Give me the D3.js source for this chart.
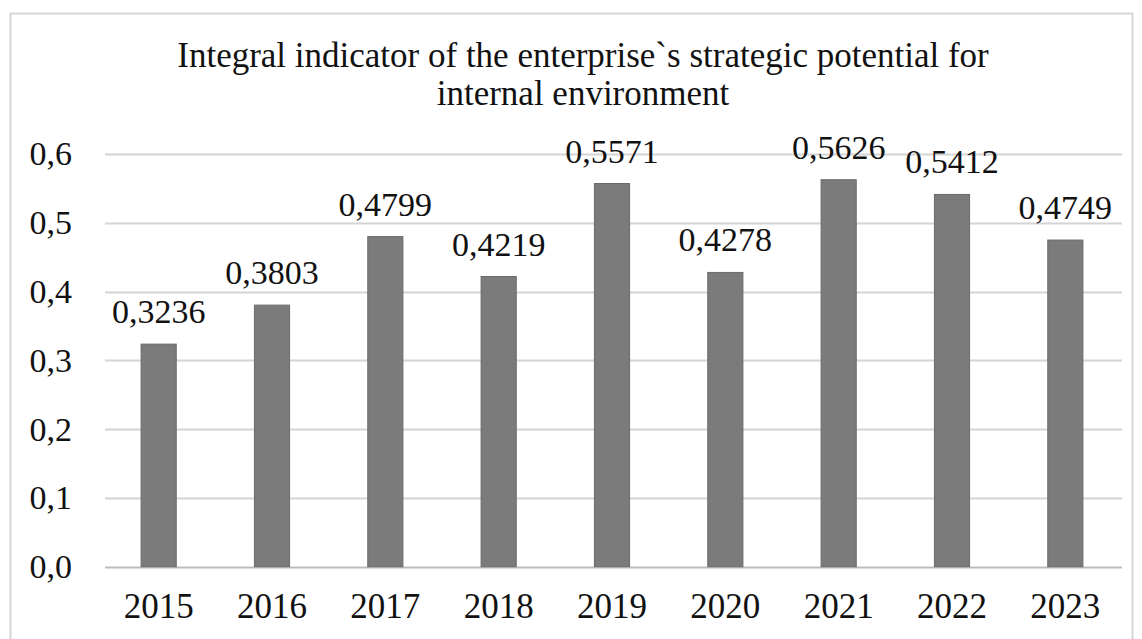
<!DOCTYPE html>
<html>
<head>
<meta charset="utf-8">
<script src="https://cdn.jsdelivr.net/npm/d3@7"></script>
</head>
<body style="margin:0;background:#fff">
<svg id="s" width="1142" height="639" style="display:block"></svg>
<script>
// Integral indicator values by year
const years = ["2015", "2016", "2017", "2018", "2019", "2020", "2021", "2022", "2023"];
const values = [0.3236, 0.3803, 0.4799, 0.4219, 0.5571, 0.4278, 0.5626, 0.5412, 0.4749];
const yTicks = [0, 0.1, 0.2, 0.3, 0.4, 0.5, 0.6];
const titleLines = [
  "Integral indicator of the enterprise`s strategic potential for",
  "internal environment"
];

const INK = "#111";
const serifText = (sel, size) => sel
  .attr("style", `font-family: 'Liberation Serif' !important; font-size: ${size}px; fill: ${INK}`);

const svg = d3.select("#s");

// Chart area frame
svg.append("rect")
  .attr("x", 10.5).attr("y", 13.5)
  .attr("width", 1122).attr("height", 640)
  .attr("fill", "none").attr("stroke", "#d6d6d6").attr("stroke-width", 2);

const plot = { left: 102, right: 1122, top: 154, bottom: 566.7 };

const x = d3.scaleBand()
  .domain(years)
  .range([plot.left, plot.right])
  .paddingInner(0.69)
  .paddingOuter(0.345);

const y = d3.scaleLinear()
  .domain([0, 0.6])
  .range([plot.bottom, plot.top]);

const comma = v => v.toFixed(1).replace(".", ",");
const comma4 = v => v.toFixed(4).replace(".", ",");

// Horizontal gridlines
svg.append("g")
  .selectAll("line")
  .data(yTicks)
  .join("line")
  .attr("x1", plot.left + 3).attr("x2", plot.right)
  .attr("y1", d => Math.round(y(d)) + 0.5).attr("y2", d => Math.round(y(d)) + 0.5)
  .attr("stroke", d => d === 0 ? "#bdbdbd" : "#d4d4d4")
  .attr("stroke-width", 2);

// Y axis labels
const gy = svg.append("g")
  .attr("transform", "translate(72,0)")
  .call(d3.axisLeft(y).tickValues(yTicks).tickFormat(comma).tickSize(0).tickPadding(0));
gy.attr("font-family", null).attr("font-size", null);
gy.select(".domain").remove();
gy.selectAll("text").call(serifText, 34).attr("dy", "0.32em");

// Bars
svg.append("g")
  .selectAll("rect")
  .data(values)
  .join("rect")
  .attr("x", (d, i) => x(years[i]))
  .attr("y", d => y(d))
  .attr("width", x.bandwidth())
  .attr("height", d => y(0) - y(d))
  .attr("fill", "#7b7b7b")
  .attr("stroke", "#6a6a6a")
  .attr("stroke-width", 1);

// Value labels
svg.append("g")
  .selectAll("text")
  .data(values)
  .join("text")
  .attr("x", (d, i) => x(years[i]) + x.bandwidth() / 2)
  .attr("y", d => y(d) - 21)
  .attr("text-anchor", "middle")
  .call(serifText, 34)
  .text(d => comma4(d));

// X axis labels
const gx = svg.append("g")
  .attr("transform", "translate(0,618)")
  .call(d3.axisBottom(x).tickSize(0).tickPadding(0));
gx.attr("font-family", null).attr("font-size", null);
gx.select(".domain").remove();
gx.selectAll("text").call(serifText, 35).attr("dy", 0);

// Title
svg.append("g")
  .selectAll("text")
  .data(titleLines)
  .join("text")
  .attr("x", 583)
  .attr("y", (d, i) => 66.5 + i * 38)
  .attr("text-anchor", "middle")
  .call(serifText, 35)
  .text(d => d);
</script>
</body>
</html>
